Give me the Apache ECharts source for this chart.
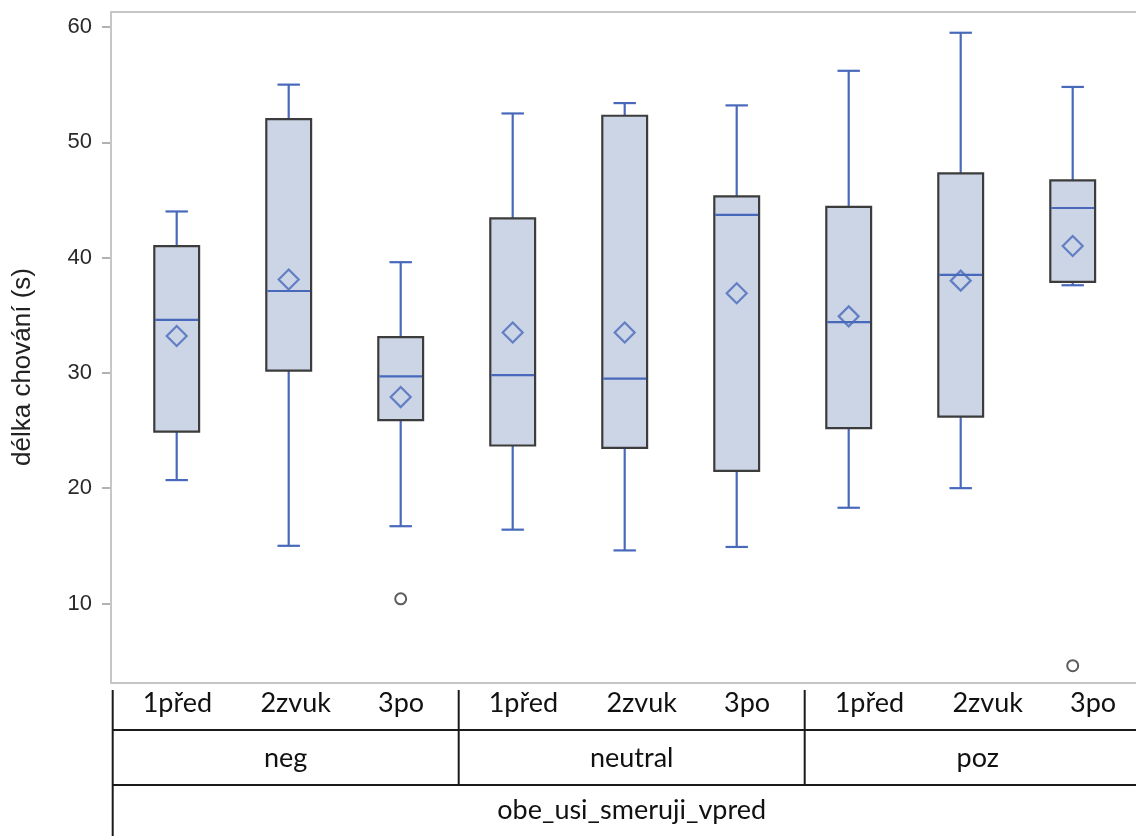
<!DOCTYPE html>
<html><head><meta charset="utf-8">
<script src="https://cdn.jsdelivr.net/npm/echarts@6/dist/echarts.min.js"></script>
<style>html,body{margin:0;padding:0;background:#fff;overflow:hidden;width:1136px;height:836px}#c{width:1160px;height:836px}</style>
</head><body><div id="c"></div>
<script>
// ---- data ----
const subCategories = ['1před','2zvuk','3po','1před','2zvuk','3po','1před','2zvuk','3po'];
const groups = ['neg','neutral','poz'];
const outerLabel = ['obe_usi_smeruji_vpred'];
const whiskerLow  = [20.7, 15.0, 16.7, 16.4, 14.6, 14.9, 18.3, 20.0, 37.6];
const q1          = [24.9, 30.2, 25.9, 23.7, 23.5, 21.5, 25.2, 26.2, 37.9];
const median      = [34.6, 37.1, 29.7, 29.8, 29.5, 43.7, 34.4, 38.5, 44.3];
const q3          = [41.0, 52.0, 33.1, 43.4, 52.3, 45.3, 44.4, 47.3, 46.7];
const whiskerHigh = [44.0, 55.0, 39.6, 52.5, 53.4, 53.2, 56.2, 59.5, 54.8];
const means       = [33.2, 38.1, 27.9, 33.5, 33.5, 36.9, 34.9, 38.0, 41.0];
const outlierIdx  = [2, 8];
const outlierVal  = [10.4, 4.6];
const yTicks = [10, 20, 30, 40, 50, 60];
const yTitle = 'délka chování (s)';

// ---- layout / style ----
const Y_MIN = 3.1, Y_MAX = 61.3;
const BLUE = '#4869bb', BOX_FILL = '#cbd5e5', BOX_EDGE = '#3c3c3c';
const TABLE_TOP = 690, ROW1 = 730, ROW2 = 785, TABLE_BOTTOM = 836;
const tableFont = 'Lato, "Open Sans", sans-serif';
const TABLE_FS = 27;

const boxData = subCategories.map((c, i) => [i, whiskerLow[i], q1[i], median[i], q3[i], whiskerHigh[i]]);
const meanData = means.map((v, i) => [i, v]);
const outData = outlierIdx.map((ix, k) => [ix, outlierVal[k]]);
const boxIds = subCategories.map((c, i) => groups[Math.floor(i / 3)] + '|' + c);

const chart = echarts.init(document.getElementById('c'), null, {renderer: 'canvas'});

function renderBox(params, api) {
  const i = api.value(0);
  const bw = api.size([1, 0])[0];
  const boxW = bw * 0.4, capW = bw * 0.2;
  const xc = api.coord([i, api.value(3)])[0];
  const yLow = api.coord([i, api.value(1)])[1];
  const yQ1 = api.coord([i, api.value(2)])[1];
  const yMed = api.coord([i, api.value(3)])[1];
  const yQ3 = api.coord([i, api.value(4)])[1];
  const yHigh = api.coord([i, api.value(5)])[1];
  const ls = {stroke: BLUE, lineWidth: 2.2};
  return {type: 'group', children: [
    {type: 'line', shape: {x1: xc, y1: yQ3, x2: xc, y2: yHigh}, style: ls},
    {type: 'line', shape: {x1: xc, y1: yQ1, x2: xc, y2: yLow}, style: ls},
    {type: 'line', shape: {x1: xc - capW / 2, y1: yHigh, x2: xc + capW / 2, y2: yHigh}, style: ls},
    {type: 'line', shape: {x1: xc - capW / 2, y1: yLow, x2: xc + capW / 2, y2: yLow}, style: ls},
    {type: 'rect', shape: {x: xc - boxW / 2, y: yQ3, width: boxW, height: yQ1 - yQ3},
      style: {fill: BOX_FILL, stroke: BOX_EDGE, lineWidth: 2.2}},
    {type: 'line', shape: {x1: xc - boxW / 2 + 1, y1: yMed, x2: xc + boxW / 2 - 1, y2: yMed}, style: ls}
  ]};
}

const option = {
  animation: false,
  backgroundColor: '#fff',
  grid: [
    {left: 111, width: 1030, top: 12, bottom: 153},
    {left: 120.7, width: 1008, top: 12, bottom: 153},
    {left: 112.7, width: 1038, top: 683, height: 7}
  ],
  xAxis: [
    {gridIndex: 0, type: 'value', show: false, min: 0, max: 1},
    {gridIndex: 1, type: 'category', data: boxIds, show: false},
    {gridIndex: 2, type: 'category', data: boxIds, position: 'bottom',
      axisLine: {show: false}, axisTick: {show: false},
      axisLabel: {interval: 0, margin: 0, color: '#111', fontFamily: tableFont, fontSize: TABLE_FS,
        formatter: (v, idx) => '{p' + (idx % 3) + '|' + v.split('|')[1] + '}',
        rich: {p0: {padding: [0, 0, 0, 14]}, p1: {padding: [0, 0, 0, 20]}, p2: {}}}},
    {gridIndex: 2, type: 'category', data: groups, position: 'bottom', offset: 55,
      axisLine: {show: false}, axisTick: {show: false},
      axisLabel: {interval: 0, margin: 0, color: '#111', fontFamily: tableFont, fontSize: TABLE_FS}},
    {gridIndex: 2, type: 'category', data: outerLabel, position: 'bottom', offset: 107,
      axisLine: {show: false}, axisTick: {show: false},
      axisLabel: {interval: 0, margin: 0, color: '#111', fontFamily: tableFont, fontSize: TABLE_FS}}
  ],
  yAxis: [
    {gridIndex: 0, type: 'value', min: Y_MIN, max: Y_MAX,
      axisLine: {show: false}, splitLine: {show: false},
      axisTick: {show: true, length: 9, lineStyle: {color: '#b0b2b4', width: 2}, customValues: yTicks},
      axisLabel: {margin: 19, color: '#2a2a2a', fontFamily: '"Liberation Sans", Arial, sans-serif', fontSize: 22, customValues: yTicks}},
    {gridIndex: 1, type: 'value', min: Y_MIN, max: Y_MAX, show: false, splitLine: {show: false}},
    {gridIndex: 2, type: 'value', show: false}
  ],
  series: [
    {type: 'custom', xAxisIndex: 1, yAxisIndex: 1, data: boxData, renderItem: renderBox,
      encode: {x: 0, y: [1, 2, 3, 4, 5]}, z: 2},
    {type: 'scatter', xAxisIndex: 1, yAxisIndex: 1, data: meanData, symbol: 'diamond', symbolSize: [20, 20],
      itemStyle: {color: 'rgba(0,0,0,0)', borderColor: BLUE, borderWidth: 2.2}, z: 5},
    {type: 'scatter', xAxisIndex: 1, yAxisIndex: 1, data: outData, symbol: 'circle', symbolSize: 11,
      itemStyle: {color: 'rgba(0,0,0,0)', borderColor: '#333', borderWidth: 2}, z: 5}
  ]
};
chart.setOption(option);

// ---- plot frame, y title and table lines derived from axes ----
const frameL = chart.convertToPixel({xAxisIndex: 0}, 0);
const frameT = chart.convertToPixel({yAxisIndex: 0}, Y_MAX);
const frameB = chart.convertToPixel({yAxisIndex: 0}, Y_MIN);
const g0 = chart.convertToPixel({xAxisIndex: 3}, 0);
const g1 = chart.convertToPixel({xAxisIndex: 3}, 1);
const colW = g1 - g0;
const leftX = g0 - colW / 2;
const seps = groups.slice(0, -1).map((g, k) => g0 + colW / 2 + k * colW);
const lineStyle = {stroke: '#1a1a1a', lineWidth: 2};
const graphics = [
  {type: 'polyline', shape: {points: [[1160, frameT], [frameL, frameT], [frameL, frameB], [1160, frameB]]},
    style: {stroke: '#c4c6c8', lineWidth: 2, fill: null}, z: 1},
  {type: 'text', x: 23, y: 367, rotation: Math.PI / 2,
    style: {text: yTitle, font: '26px "Liberation Sans", Arial, sans-serif', fill: '#222', align: 'center', verticalAlign: 'middle'}},
  {type: 'line', shape: {x1: leftX, y1: TABLE_TOP, x2: leftX, y2: TABLE_BOTTOM}, style: lineStyle},
  {type: 'line', shape: {x1: leftX, y1: ROW1, x2: 1160, y2: ROW1}, style: lineStyle},
  {type: 'line', shape: {x1: leftX, y1: ROW2, x2: 1160, y2: ROW2}, style: lineStyle}
].concat(seps.map(x => ({type: 'line', shape: {x1: x, y1: TABLE_TOP, x2: x, y2: ROW2}, style: lineStyle})));
chart.setOption({graphic: graphics});
</script>
</body></html>
